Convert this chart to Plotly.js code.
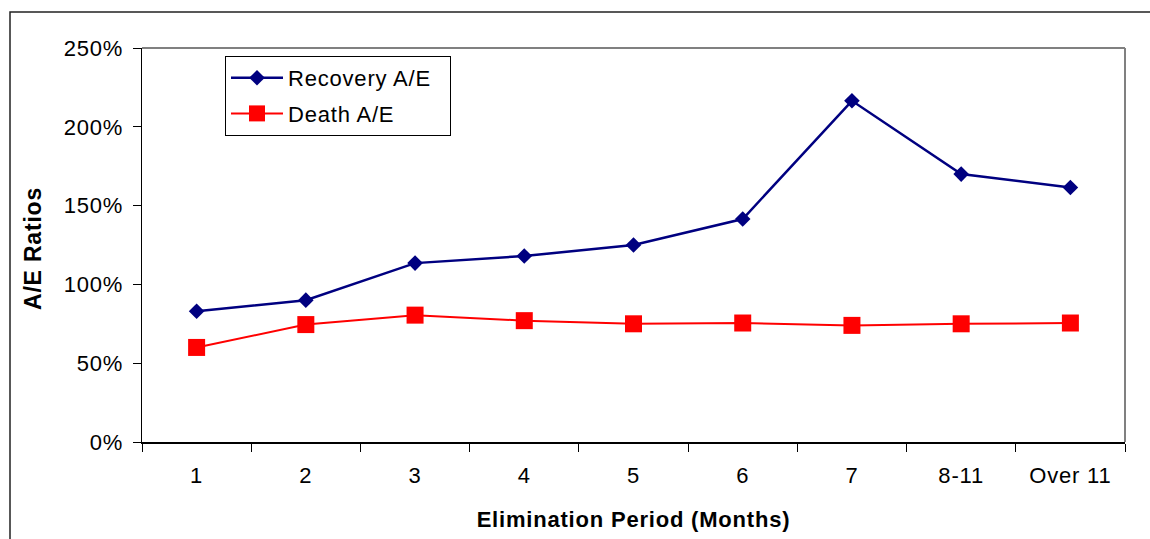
<!DOCTYPE html>
<html>
<head>
<meta charset="utf-8">
<script src="https://cdn.plot.ly/plotly-3.0.1.min.js"></script>
<style>
html,body{margin:0;padding:0;background:#fff;}
#chart{width:1150px;height:539px;}
text{letter-spacing:0.8px;}
</style>
</head>
<body>
<div id="chart"></div>
<script>
const categories = ["1","2","3","4","5","6","7","8-11","Over 11"];
const recoveryAE = [0.83, 0.90, 1.135, 1.18, 1.25, 1.415, 2.165, 1.70, 1.615];
const deathAE = [0.60, 0.745, 0.805, 0.77, 0.75, 0.755, 0.74, 0.75, 0.755];
const seriesNames = ["Recovery A/E", "Death A/E"];

const FONT = "Liberation Sans, Arial, sans-serif";
const PAD = "\u00a0\u00a0";

const traces = [
  {
    x: categories, y: recoveryAE, name: seriesNames[0] + PAD, type: "scatter", mode: "lines+markers",
    line: {color: "#000080", width: 2.5},
    marker: {symbol: "diamond", size: 12, color: "#000080"},
    legendgroup: "a"
  },
  {
    x: categories, y: deathAE, name: seriesNames[1], type: "scatter", mode: "lines+markers",
    line: {color: "#FF0000", width: 2},
    marker: {symbol: "square", size: 17, color: "#FF0000"},
    legendgroup: "b"
  }
];

const L = 142, R = 1125, T = 48, B = 442, W = 1150, H = 539;
const pw = R - L, ph = B - T;
const px = v => (v - L) / pw;
const py = v => (B - v) / ph;

const layout = {
  width: W, height: H,
  margin: {l: L, r: W - R, t: T, b: H - B, pad: 0},
  paper_bgcolor: "#ffffff", plot_bgcolor: "#ffffff",
  font: {family: FONT, size: 22, color: "#000"},
  showlegend: true,
  legend: {
    x: px(225), y: py(56), xanchor: "left", yanchor: "top",
    bordercolor: "#000", borderwidth: 1, bgcolor: "#fff",
    font: {family: FONT, size: 22, color: "#000"},
    traceorder: "grouped", tracegroupgap: 4,
    itemwidth: 52
  },
  xaxis: {
    type: "category",
    range: [-0.5, 8.5],
    showgrid: false, zeroline: false,
    showline: true, linecolor: "#000", linewidth: 1.5,
    ticks: "outside", ticklen: 8, tickcolor: "#000", tickwidth: 1,
    tickson: "boundaries",
    ticklabelstandoff: 13,
    tickfont: {family: FONT, size: 22, color: "#000"},
    title: {text: "Elimination Period (Months)", font: {family: FONT, size: 22, color: "#000", weight: "bold"}, standoff: 24},
    fixedrange: true
  },
  yaxis: {
    range: [0, 2.5], dtick: 0.5, tick0: 0, tickformat: ".0%",
    showgrid: false, zeroline: false,
    showline: true, linecolor: "#000", linewidth: 1.5,
    ticks: "outside", ticklen: 8, tickcolor: "#000", tickwidth: 1,
    ticklabelstandoff: 5,
    tickfont: {family: FONT, size: 22, color: "#000"},
    title: {text: ""},
    fixedrange: true
  },
  annotations: [
    {
      text: "<b>A/E Ratios</b>", xref: "paper", yref: "paper",
      x: px(33), y: py(249), xanchor: "center", yanchor: "middle",
      textangle: -90, showarrow: false,
      font: {family: FONT, size: 23, color: "#000"}
    }
  ],
  shapes: [
    {type: "line", xref: "paper", yref: "paper", x0: 0, x1: 1, y0: 1, y1: 1, line: {color: "#808080", width: 2}},
    {type: "line", xref: "paper", yref: "paper", x0: 1, x1: 1, y0: 0, y1: 1, line: {color: "#808080", width: 2}},
    {type: "rect", xref: "paper", yref: "paper", x0: px(10), x1: px(1170), y0: py(12), y1: py(560), line: {color: "#222", width: 1.5}, fillcolor: "rgba(0,0,0,0)"}
  ]
};

Plotly.newPlot("chart", traces, layout, {displayModeBar: false, staticPlot: true});
</script>
</body>
</html>
